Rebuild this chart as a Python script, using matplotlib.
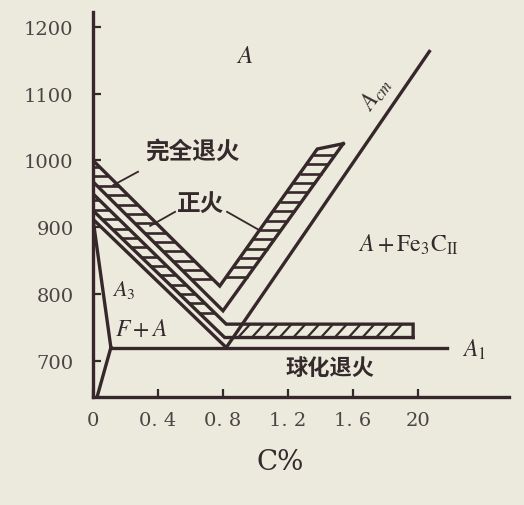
import numpy as np
import matplotlib
matplotlib.use("Agg")
import matplotlib.pyplot as plt

plt.rcParams['font.family'] = ['DejaVu Serif', 'Noto Sans CJK SC']
plt.rcParams['mathtext.fontset'] = 'stix'

# axis ticks
c_ticks = [0, 0.4, 0.8, 1.2, 1.6, 2.0]
c_tick_labels = ["0", "0. 4", "0. 8", "1. 2", "1. 6", "20"]
t_ticks = [700, 800, 900, 1000, 1100, 1200]

# phase boundaries (C%, temperature)
gp_c = [0, 0.11]
gp_t = [912, 720]
pq_c = [0.11, 0.025]
pq_t = [720, 646]
gs_c = [0, 0.82]
gs_t = [912, 720]
a1_c = [0.11, 2.18]
a1_t = [720, 720]
acm_c = [0.82, 2.07]
acm_t = [720, 1163]

# normalizing band (V shape)
norm_top_c = [0, 0.78, 1.38, 1.54]
norm_top_t = [1000, 812, 1017, 1025]
norm_bot_c = [0, 0.80, 1.54]
norm_bot_t = [968, 775, 1025]

# full annealing + spheroidizing band
ann_top_c = [0, 0.82, 1.97, 1.97]
ann_top_t = [950, 755, 755, 735]
ann_bot_c = [0, 0.81, 1.97]
ann_bot_t = [925, 735, 735]

LINE = '#35272a'
TXT = '#342a2c'

fig = plt.figure(figsize=(5.24, 5.06), dpi=100)
fig.patch.set_facecolor('#ece9dd')
ax = fig.add_axes([93/524, 108/506, 416/524, 385/506])
ax.set_facecolor('#ece9dd')
ax.set_xlim(0, 2.56)
ax.set_ylim(646, 1222)


def seg(c, t, i):
    # one straight piece of a polyline, sorted by temperature for np.interp
    tt = [t[i], t[i + 1]]
    cc = [c[i], c[i + 1]]
    if tt[0] > tt[1]:
        tt, cc = tt[::-1], cc[::-1]
    return tt, cc


def ladder(upper, lower, temps):
    for T in temps:
        x1 = np.interp(T, *upper)
        x2 = np.interp(T, *lower)
        ax.plot([x1, x2], [T, T], color=LINE, lw=1.9, solid_capstyle='butt')


for c, t in [(gp_c, gp_t), (pq_c, pq_t), (gs_c, gs_t), (a1_c, a1_t), (acm_c, acm_t),
             (norm_top_c, norm_top_t), (norm_bot_c, norm_bot_t),
             (ann_top_c, ann_top_t), (ann_bot_c, ann_bot_t)]:
    ax.plot(c, t, color=LINE, lw=2.4, solid_joinstyle='miter')

# hatching of the bands
ladder(seg(norm_top_c, norm_top_t, 0), seg(norm_bot_c, norm_bot_t, 0), np.arange(990, 815, -14))
ladder(seg(norm_top_c, norm_top_t, 1), seg(norm_bot_c, norm_bot_t, 1), np.arange(826, 1016, 14))
ladder(seg(ann_top_c, ann_top_t, 0), seg(ann_bot_c, ann_bot_t, 0), np.arange(940, 760, -14))
for x in np.arange(0.9, 1.92, 0.085):
    ax.plot([x, x + 0.06], [737, 753], color=LINE, lw=1.6)

# leaders
ax.plot([0.277, 0.125], [983, 963], color=LINE, lw=1.3)
ax.plot([0.505, 0.352], [923, 902], color=LINE, lw=1.3)
ax.plot([0.825, 1.028], [923, 895], color=LINE, lw=1.3)

# labels
ax.text(0.935, 1157, r'$A$', fontsize=18, color=TXT, ha='center', va='center')
ax.text(1.74, 1100, r'$A_{cm}$', fontsize=17, color=TXT, ha='center', va='center', rotation=54)
ax.text(1.94, 875, r'$A+\mathrm{Fe_3C_{II}}$', fontsize=17, color=TXT, ha='center', va='center')
ax.text(2.27, 718, r'$A_1$', fontsize=17, color=TXT, ha='left', va='center')
ax.text(0.115, 808, r'$A_3$', fontsize=16, color=TXT, ha='left', va='center')
ax.text(0.30, 748, r'$F+A$', fontsize=17, color=TXT, ha='center', va='center')
ax.text(0.61, 1014, '完全退火', fontsize=17, color=TXT, ha='center', va='center',
        family=['Noto Sans CJK SC'], fontweight='bold')
ax.text(0.665, 935, '正火', fontsize=17, color=TXT, ha='center', va='center',
        family=['Noto Sans CJK SC'], fontweight='bold')
ax.text(1.46, 690, '球化退火', fontsize=16, color=TXT, ha='center', va='center',
        family=['Noto Sans CJK SC'], fontweight='bold')

# axes
for s in ['top', 'right']:
    ax.spines[s].set_visible(False)
for s in ['left', 'bottom']:
    ax.spines[s].set_linewidth(2.4)
    ax.spines[s].set_color(LINE)
ax.set_xticks(c_ticks)
ax.set_xticklabels(c_tick_labels)
ax.set_yticks(t_ticks)
ax.tick_params(direction='in', length=6, width=1.6, color=LINE, labelcolor='#4a4444', labelsize=14)
ax.tick_params(axis='y', pad=14)
ax.tick_params(axis='x', pad=10)
ax.set_xlabel('C%', fontsize=20, color=TXT, x=0.45, labelpad=14)

fig.savefig('out.png', dpi=100, facecolor=fig.get_facecolor())
